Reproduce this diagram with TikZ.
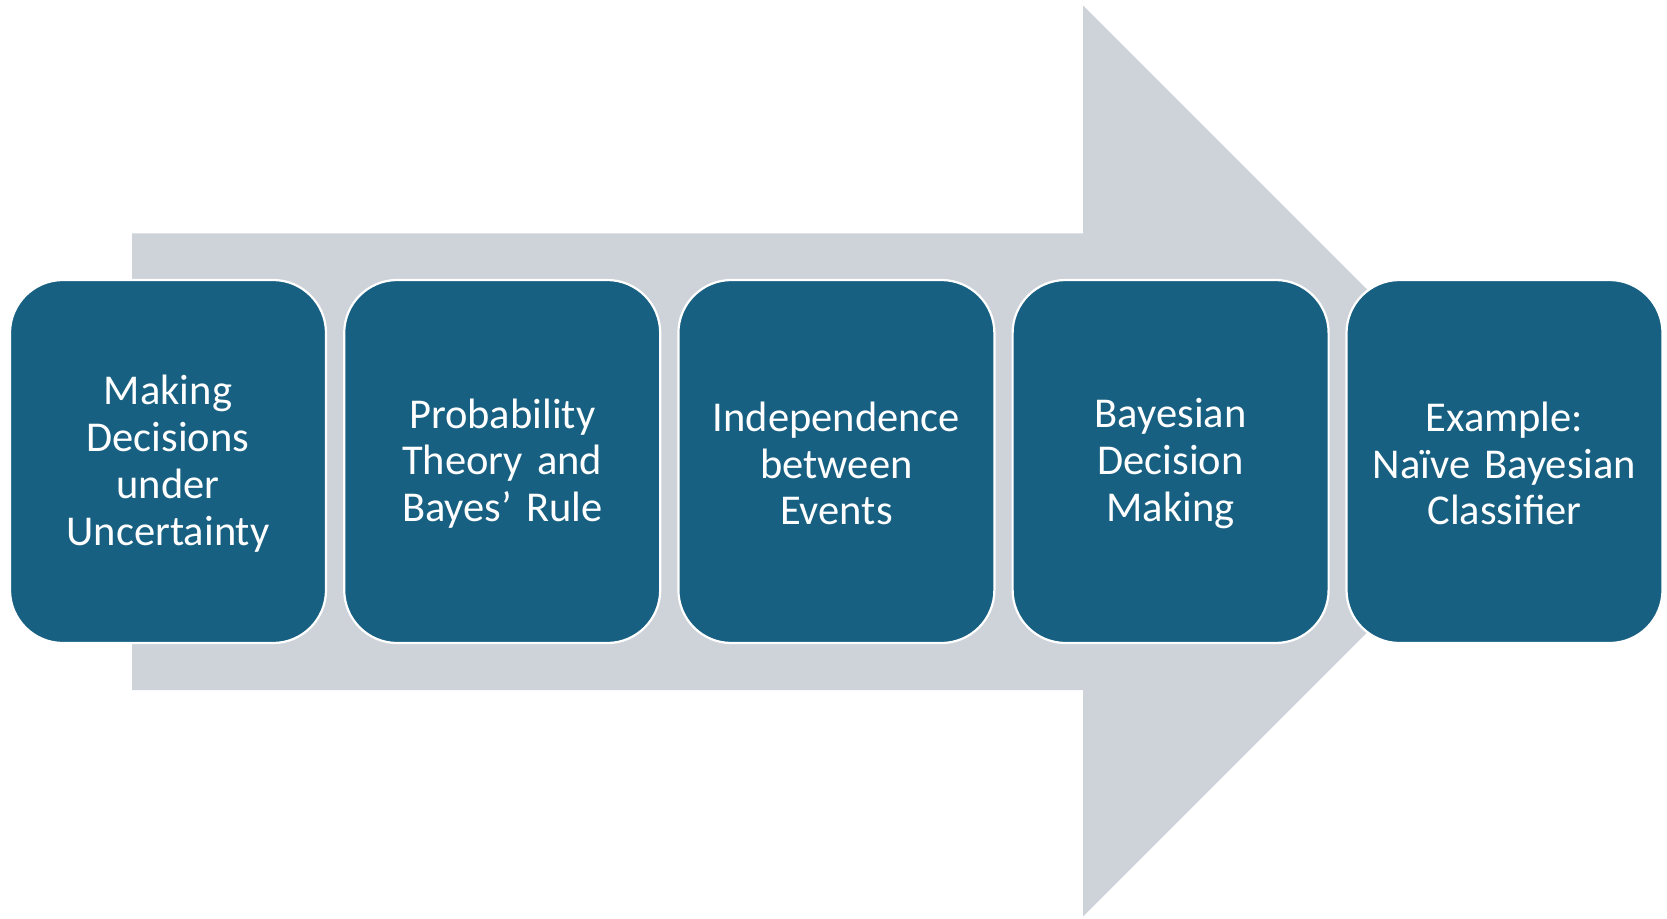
\documentclass[tikz,border=0pt]{standalone}
\usepackage{fontspec}
\setmainfont{Carlito}[WordSpace=0.8]
\definecolor{boxblue}{RGB}{24,96,130}
\definecolor{arrowgray}{RGB}{206,211,218}
\begin{document}
\begin{tikzpicture}[x=1pt,y=-1pt,
  stagebox/.style={draw=white, line width=2.2pt, fill=boxblue, rounded corners=53pt,
    minimum width=316pt, minimum height=363pt, inner sep=0pt},
  stagetext/.style={inner sep=0pt, text=white, align=center,
    font=\fontsize{42.5}{46.8}\selectfont, text width=305pt}]
\useasboundingbox (0,0) rectangle (1667,918);
\fill[arrowgray] (132,233.3) -- (1083,233.3) -- (1083,5.3) -- (1538.7,461) -- (1083,916.7) -- (1083,690) -- (132,690) -- cycle;
\node[stagebox] (s1) at (168,461.5) {};
\node[stagebox] (s2) at (502.2,461.5) {};
\node[stagebox] (s3) at (836.4,461.5) {};
\node[stagebox] (s4) at (1170.6,461.5) {};
\node[stagebox] (s5) at (1504.5,461.5) {};
\node[stagetext] (t1) at ([yshift=-2pt]s1.center) {Making\\Decisions\\under\\Uncertainty};
\node[stagetext] (t2) at ([yshift=-2pt]s2.center) {Probability\\Theory and\\Bayes’ Rule};
\node[stagetext] (t3) at ([yshift=-2pt]s3.center) {Independence\\between\\Events};
\node[stagetext] (t4) at ([yshift=-2pt]s4.center) {Bayesian\\Decision\\Making};
\node[stagetext] (t5) at ([yshift=-2pt]s5.center) {Example:\\Naïve Bayesian\\Classifier};
\end{tikzpicture}
\end{document}
